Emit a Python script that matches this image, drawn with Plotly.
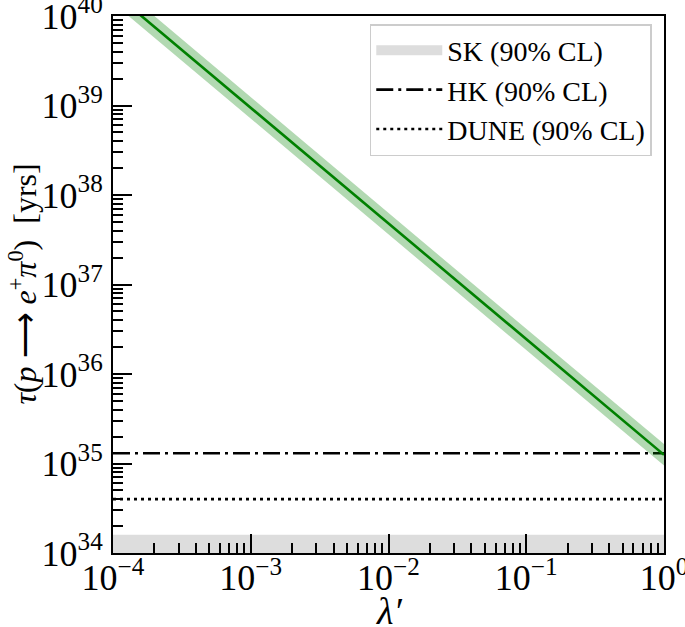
import plotly.graph_objects as go

# ---- data ----
lam = [1e-4, 1e-3, 1e-2, 1e-1, 1.0]
tau_central = [1.85e40, 9.4e38, 4.8e37, 2.45e36, 1.25e35]
tau_upper = [2.45e40, 1.24e39, 6.3e37, 3.2e36, 1.65e35]
tau_lower = [1.40e40, 7.1e38, 3.6e37, 1.85e36, 0.95e35]

x_span = [1e-4, 1.0]
sk_limit = 1.6e34
hk_limit = 1.3e35
dune_limit = 4.0e34
y_floor = 1e34

x_tickvals = [1e-4, 1e-3, 1e-2, 1e-1, 1.0]
x_ticktext = ["10<sup>\u22124</sup>", "10<sup>\u22123</sup>", "10<sup>\u22122</sup>",
              "10<sup>\u22121</sup>", "10<sup>0</sup>"]
y_tickvals = [1e34, 1e35, 1e36, 1e37, 1e38, 1e39, 1e40]
y_ticktext = ["10<sup>34</sup>", "10<sup>35</sup>", "10<sup>36</sup>", "10<sup>37</sup>",
              "10<sup>38</sup>", "10<sup>39</sup>", "10<sup>40</sup>"]

FONT = "Liberation Serif"
SK_GRAY = "#dddddd"

fig = go.Figure()

# SK band
fig.add_trace(go.Scatter(x=x_span, y=[y_floor, y_floor], mode="lines",
                         line=dict(width=0), showlegend=False, hoverinfo="skip"))
fig.add_trace(go.Scatter(x=x_span, y=[sk_limit, sk_limit], mode="lines",
                         line=dict(width=0), fill="tonexty", fillcolor=SK_GRAY,
                         name="SK (90% CL)", legendgroup="sk", showlegend=False))
# legend swatch for SK (no data points)
fig.add_trace(go.Scatter(x=[None], y=[None], mode="lines",
                         line=dict(color=SK_GRAY, width=19),
                         name="SK (90% CL)", legendgroup="sk"))

# HK line
fig.add_trace(go.Scatter(x=x_span, y=[hk_limit, hk_limit], mode="lines",
                         line=dict(color="black", width=2.6, dash="17px,5px,3px,5px"),
                         name="HK (90% CL)"))
# DUNE line
fig.add_trace(go.Scatter(x=x_span, y=[dune_limit, dune_limit], mode="lines",
                         line=dict(color="black", width=2.6, dash="3px,4px"),
                         name="DUNE (90% CL)"))

# green band
fig.add_trace(go.Scatter(x=lam, y=tau_lower, mode="lines", line=dict(width=0),
                         showlegend=False, hoverinfo="skip"))
fig.add_trace(go.Scatter(x=lam, y=tau_upper, mode="lines", line=dict(width=0),
                         fill="tonexty", fillcolor="rgba(0,128,0,0.3)", showlegend=False))
fig.add_trace(go.Scatter(x=lam, y=tau_central, mode="lines",
                         line=dict(color="#008000", width=2.6), showlegend=False))

axis_common = dict(
    type="log", showgrid=False, zeroline=False,
    showline=True, linecolor="black", linewidth=2, mirror=True,
    ticks="inside", ticklen=19, tickwidth=2, tickcolor="black",
    tickfont=dict(family=FONT, size=36, color="black"),
    ticklabeloverflow="allow",
    minor=dict(ticks="inside", ticklen=10, tickwidth=1.5, tickcolor="black",
               dtick="D1", showgrid=False),
)

eps = 1e-6
fig.update_xaxes(**axis_common, range=[-4 - eps, 0 + eps], tickmode="array",
                 tickvals=x_tickvals, ticktext=x_ticktext, ticklabelstandoff=-8)
fig.update_yaxes(**axis_common, range=[34 - eps, 40 + eps], tickmode="array",
                 tickvals=y_tickvals, ticktext=y_ticktext, ticklabelstandoff=1)

fig.add_annotation(text="<i>\u03bb\u2032</i>", xref="paper", yref="paper",
                   x=0.5, y=-0.108, xanchor="center", yanchor="middle", showarrow=False,
                   font=dict(family=FONT, size=38, color="black"))
fig.add_annotation(text="<i>\u03c4</i>(<i>p</i>\u2005\u27f6\u2005<i>e</i><sup>+</sup><i>\u03c0</i><sup>0</sup>)\u2002[yrs]",
                   xref="paper", yref="paper", x=-0.165, y=0.5, textangle=-90,
                   xanchor="center", yanchor="middle", showarrow=False,
                   font=dict(family=FONT, size=32, color="black"))

fig.update_layout(
    width=685, height=627,
    margin=dict(l=113, r=21, t=16, b=74, autoexpand=False),
    plot_bgcolor="white", paper_bgcolor="white",
    legend=dict(x=0.466, y=0.985, xanchor="left", yanchor="top",
                bgcolor="white", bordercolor="#cccccc", borderwidth=1.5,
                font=dict(family=FONT, size=28, color="black"),
                itemwidth=66, traceorder="normal", tracegroupgap=0),
)

fig.write_html("out.html", config={"displayModeBar": False},
               post_script="document.body.style.margin='0';")
